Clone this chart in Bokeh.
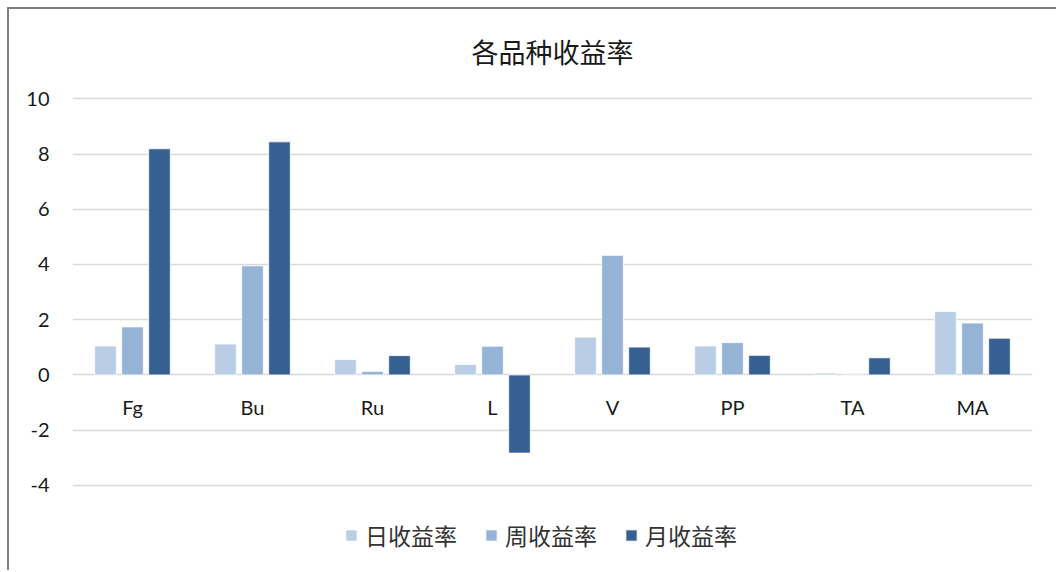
from bokeh.plotting import figure
from bokeh.models import FactorRange, FixedTicker, Legend, LegendItem, ColumnDataSource
from bokeh.transform import dodge
from bokeh.embed import file_html
from bokeh.resources import INLINE
from bokeh.core.properties import value

categories = ["Fg", "Bu", "Ru", "L", "V", "PP", "TA", "MA"]
daily = [1.05, 1.12, 0.56, 0.38, 1.37, 1.05, 0.07, 2.30]
weekly = [1.74, 3.95, 0.13, 1.04, 4.33, 1.17, -0.02, 1.88]
monthly = [8.19, 8.44, 0.70, -2.83, 1.01, 0.71, 0.62, 1.33]
series_names = ["日收益率", "周收益率", "月收益率"]
y_ticks = [-4, -2, 0, 2, 4, 6, 8, 10]
y_tick_labels = ["-4", "-2", "0", "2", "4", "6", "8", "10"]

colors = ["#B9CDE5", "#95B3D7", "#376092"]

src = ColumnDataSource(dict(cat=categories, d=daily, w=weekly, m=monthly,
                            ly=[-1.15] * len(categories)))

p = figure(width=1049, height=563, x_range=FactorRange(*categories),
           y_range=(-6.9, 10.3), output_backend="svg", toolbar_location=None,
           min_border_left=63, min_border_right=26, min_border_top=81,
           min_border_bottom=7)
p.styles = {"margin-left": "7px", "margin-top": "7px",
            "border-left": "2px solid #808080", "border-top": "2px solid #808080"}
p.outline_line_color = None
p.background_fill_color = "white"
p.border_fill_color = "white"

p.title.text = "各品种收益率"
p.title.align = "center"
p.title.text_font = "Noto Sans CJK SC"
p.title.text_font_size = "27px"
p.title.text_font_style = "normal"
p.title.text_color = "#1a1a1a"
p.title.standoff = 40

p.xaxis.visible = False
p.xgrid.visible = False
p.yaxis.ticker = FixedTicker(ticks=y_ticks)
p.yaxis.major_label_overrides = dict(zip(y_ticks, y_tick_labels))
p.yaxis.axis_line_color = None
p.yaxis.major_tick_line_color = None
p.yaxis.minor_tick_line_color = None
p.yaxis.major_label_standoff = 17
p.yaxis.major_label_text_font = "Lato"
p.yaxis.major_label_text_font_size = "20px"
p.yaxis.major_label_text_color = "#1a1a1a"
p.ygrid.ticker = FixedTicker(ticks=y_ticks)
p.ygrid.grid_line_color = "#D9D9D9"
p.ygrid.grid_line_width = 1.5

offs = [-0.225, 0.0, 0.225]
fields = ["d", "w", "m"]
rs = []
for f, o, c in zip(fields, offs, colors):
    r = p.vbar(x=dodge("cat", o, range=p.x_range), top=f, bottom=0, width=0.18,
               source=src, fill_color=c, line_color="white", line_width=0.8)
    rs.append(r)

p.text(x="cat", y="ly", text="cat", source=src, text_align="center",
       text_baseline="middle", text_font=value("Lato"),
       text_font_size="20px", text_color="#1a1a1a")

legend = Legend(items=[LegendItem(label=n, renderers=[r]) for n, r in zip(series_names, rs)],
                orientation="horizontal", location=(272, 13))
legend.label_text_font = "Noto Sans CJK SC"
legend.label_text_font_size = "23px"
legend.label_text_color = "#333333"
legend.glyph_width = 14
legend.glyph_height = 14
legend.label_standoff = 7
legend.spacing = 27
legend.padding = 0
legend.margin = 0
legend.border_line_color = None
legend.background_fill_alpha = 0
p.add_layout(legend, "center")

open("out.html", "w").write(file_html(p, INLINE))
